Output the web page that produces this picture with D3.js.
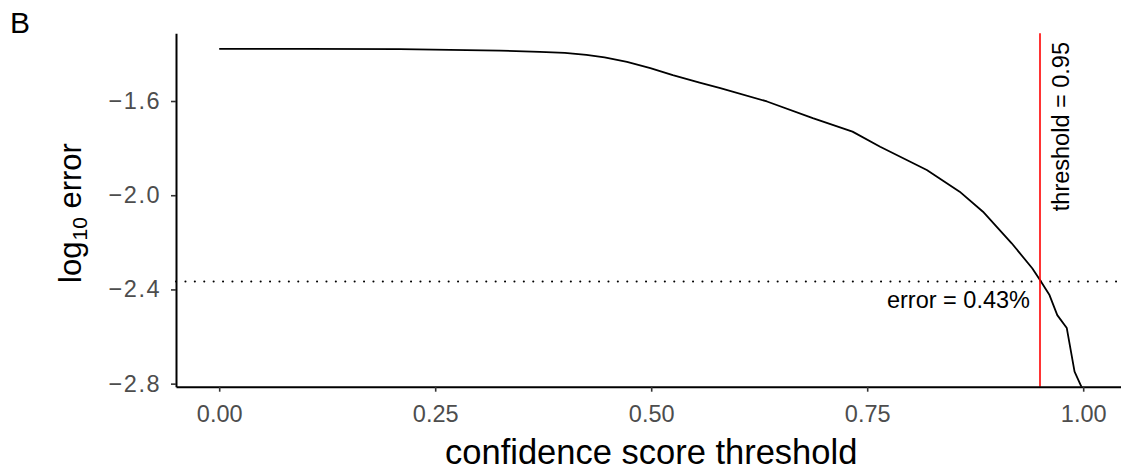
<!DOCTYPE html>
<html>
<head>
<meta charset="UTF-8">
<title>log10 error vs threshold</title>
<style type="text/css">
	body { margin: 0; background: #fff; }
	text { font-family: "Liberation Sans", Arial, Helvetica, sans-serif; }
	.axis path { stroke: #000; stroke-width: 2px; }
	.axis line { stroke: #333; stroke-width: 1.6px; }
</style>
<script type="text/javascript" src="https://cdn.jsdelivr.net/npm/d3@7/dist/d3.min.js"></script>
</head>
<body>
<div id="div_main"></div>
<script type="text/javascript">

	// curve: threshold vs log10(error)
	var thresholds = [0.000, 0.100, 0.209, 0.325, 0.371, 0.400, 0.425, 0.446, 0.472, 0.499,
	                  0.525, 0.556, 0.580, 0.634, 0.687, 0.733, 0.765, 0.819, 0.857, 0.884,
	                  0.917, 0.941, 0.950, 0.961, 0.970, 0.981, 0.990, 1.000];
	var logErrors  = [-1.379, -1.379, -1.380, -1.386, -1.391, -1.396, -1.404, -1.415, -1.434, -1.460,
	                  -1.490, -1.522, -1.545, -1.602, -1.673, -1.730, -1.794, -1.893, -1.985, -2.070,
	                  -2.203, -2.310, -2.360, -2.424, -2.509, -2.564, -2.749, -2.830];

	var xTicks = [0, 0.25, 0.5, 0.75, 1];
	var yTicks = [-1.6, -2.0, -2.4, -2.8];

	var cutoff = 0.95;
	var errorAtCutoff = 0.0043;

	function draw(svg_w, svg_h, id_svg_main) {

		var padL = 176, padT = 33.3, padB = 386.7;
		var fs = 23.5;

		var svg = d3.select(id_svg_main).append("svg")
			.attr("width", svg_w)
			.attr("height", svg_h);

		var scaleX = d3.scaleLinear()
			.domain([-0.05, 1.05])
			.range([padL, padL + 950.4]);

		var scaleY = d3.scaleLinear()
			.domain([-2.813, -1.3125])
			.range([padB, padT]);

		// clip so the tail stops at the panel edge
		svg.append("clipPath").attr("id", "panel")
			.append("rect")
				.attr("x", padL).attr("y", padT)
				.attr("width", svg_w - padL).attr("height", padB - padT);

		var pts = thresholds.map(function (d, i) { return [d, logErrors[i]]; });

		var line = d3.line()
			.x(function (d) { return scaleX(d[0]); })
			.y(function (d) { return scaleY(d[1]); });

		// dotted error level
		var yErr = scaleY(Math.log10(errorAtCutoff));
		svg.append("line")
			.attr("x1", padL).attr("x2", svg_w)
			.attr("y1", yErr).attr("y2", yErr)
			.attr("stroke", "#000")
			.attr("stroke-width", 2)
			.attr("stroke-linecap", "round")
			.attr("stroke-dasharray", "0.1,9.3");

		svg.append("path")
			.datum(pts)
			.attr("clip-path", "url(#panel)")
			.attr("fill", "none")
			.attr("stroke", "#000")
			.attr("stroke-width", 1.8)
			.attr("stroke-linejoin", "round")
			.attr("d", line);

		// red threshold line
		svg.append("line")
			.attr("x1", scaleX(cutoff)).attr("x2", scaleX(cutoff))
			.attr("y1", padT).attr("y2", padB)
			.attr("stroke", "#ff0000")
			.attr("stroke-width", 1.6);

		// axes
		var axisX = d3.axisBottom(scaleX)
			.tickValues(xTicks)
			.tickFormat(d3.format(".2f"))
			.tickSize(5)
			.tickPadding(14)
			.tickSizeOuter(0);

		var gx = svg.append("g")
			.attr("class", "axis")
			.attr("transform", "translate(0," + padB + ")")
			.call(axisX);
		gx.selectAll(".tick text")
			.attr("font-size", fs)
			.attr("fill", "#4d4d4d");

		var axisY = d3.axisLeft(scaleY)
			.tickValues(yTicks)
			.tickFormat(function (d) { return "\u2212" + d3.format(".1f")(Math.abs(d)); })
			.tickSize(5)
			.tickPadding(10)
			.tickSizeOuter(0);

		var gy = svg.append("g")
			.attr("class", "axis")
			.attr("transform", "translate(" + padL + ",0)")
			.call(axisY);
		gy.selectAll(".tick text")
			.attr("font-size", fs)
			.attr("letter-spacing", 1.5)
			.attr("fill", "#4d4d4d");

		// annotations
		svg.append("text")
			.attr("transform", "translate(" + (scaleX(cutoff) + 29) + ",42) rotate(-90)")
			.attr("text-anchor", "end")
			.attr("font-size", fs)
			.attr("fill", "#000")
			.text("threshold = " + cutoff);

		svg.append("text")
			.attr("x", 1030).attr("y", 308)
			.attr("text-anchor", "end")
			.attr("font-size", fs)
			.attr("fill", "#000")
			.text("error = " + (errorAtCutoff * 100).toFixed(2) + "%");

		// axis titles
		svg.append("text")
			.attr("x", padL + 950.4 / 2).attr("y", 464)
			.attr("text-anchor", "middle")
			.attr("font-size", 34.5)
			.attr("fill", "#000")
			.text("confidence score threshold");

		var yt = svg.append("text")
			.attr("transform", "translate(81,213) rotate(-90)")
			.attr("text-anchor", "middle")
			.attr("font-size", 31)
			.attr("fill", "#000");
		yt.append("tspan").text("log");
		yt.append("tspan").attr("font-size", 21).attr("dx", 1).attr("dy", 6).text("10");
		yt.append("tspan").attr("dy", -6).text(" error");

		svg.append("text")
			.attr("x", 10).attr("y", 33)
			.attr("font-size", 30)
			.attr("fill", "#000")
			.text("B");
	}

	draw(1121, 470, "#div_main");

</script>
</body>
</html>
